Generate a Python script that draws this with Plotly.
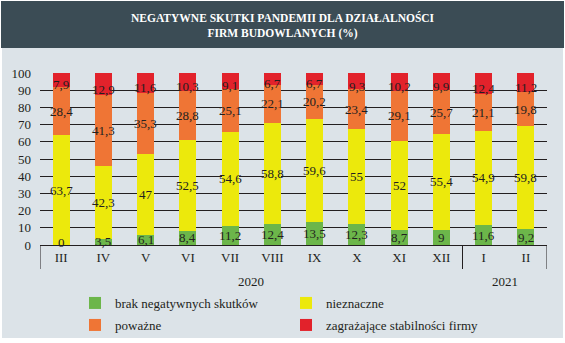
import plotly.graph_objects as go

months = ["III", "IV", "V", "VI", "VII", "VIII", "IX", "X", "XI", "XII", "I", "II"]
years = ["2020", "2021"]
brak = [0, 3.5, 6.1, 8.4, 11.2, 12.4, 13.5, 12.3, 8.7, 9, 11.6, 9.2]
nieznaczne = [63.7, 42.3, 47, 52.5, 54.6, 58.8, 59.6, 55, 52, 55.4, 54.9, 59.8]
powazne = [28.4, 41.3, 35.3, 28.8, 25.1, 22.1, 20.2, 23.4, 29.1, 25.7, 21.1, 19.8]
zagrazajace = [7.9, 12.9, 11.6, 10.3, 9.1, 6.7, 6.7, 9.3, 10.2, 9.9, 12.4, 11.2]

names = ["brak negatywnych skutków", "nieznaczne", "poważne", "zagrażające stabilności firmy"]
colors = ["#6cb64a", "#ece90c", "#ef7535", "#e2222b"]
series = [brak, nieznaczne, powazne, zagrazajace]
legend_ids = ["legend", "legend", "legend2", "legend2"]

W, H = 565, 343
L, R, T, B = 40, 18, 73, 98
ph = H - T - B
pw = W - L - R

def py(pix):
    return (H - B - pix) / ph

def px(pix):
    return (pix - L) / pw

fig = go.Figure()
xs = list(range(len(months)))
for name, col, vals, lg in zip(names, colors, series, legend_ids):
    fig.add_trace(go.Bar(x=xs, y=vals, name=name, legend=lg,
                         marker=dict(color=col, line=dict(width=0))))

def fmt(v):
    return ("%g" % v).replace(".", ",")

annotations = []
cum = [0.0] * len(months)
for si, vals in enumerate(series):
    for i, v in enumerate(vals):
        mid = cum[i] + v / 2
        if si == 0:
            mid = max(mid, 1.5)
        annotations.append(dict(
            x=i, y=mid, xref="x", yref="y", text=fmt(v), showarrow=False,
            yanchor="middle", xanchor="center",
            font=dict(family="Liberation Serif", size=13, color="#231f20"),
            yshift=(-5 if si == 3 else 0)))
        cum[i] += v

# year labels
for yr, xc in zip(years, [4.5, 10.5]):
    annotations.append(dict(x=xc, y=py(281), xref="x", yref="paper", text=yr, showarrow=False,
                            yanchor="middle", xanchor="center",
                            font=dict(family="Liberation Serif", size=13, color="#231f20")))
# title
annotations.append(dict(x=px(283), y=py(26), xref="paper", yref="paper",
                        yanchor="middle", xanchor="center",
                        text="<b>NEGATYWNE SKUTKI PANDEMII DLA DZIAŁALNOŚCI<br>FIRM BUDOWLANYCH (%)</b>",
                        showarrow=False, font=dict(family="Liberation Serif", size=11.5, color="white")))

shapes = [
    dict(type="rect", xref="paper", yref="paper", x0=px(2), x1=px(563), y0=py(338), y1=py(48),
         fillcolor="#dce3e8", line=dict(width=0), layer="below"),
    dict(type="rect", xref="paper", yref="paper", x0=px(1), x1=px(564), y0=py(48), y1=py(1),
         fillcolor="#3b4c55", line=dict(width=0), layer="below"),
]
for xv in [-0.5, 9.5, 11.5]:
    shapes.append(dict(type="line", xref="x", yref="paper", x0=xv, x1=xv, y0=0, y1=py(269),
                       line=dict(color="#231f20", width=1)))

legend_style = dict(orientation="h", xanchor="left", yanchor="middle",
                    xref="paper", yref="paper",
                    entrywidth=166, entrywidthmode="pixels", traceorder="normal",
                    font=dict(family="Liberation Serif", size=13, color="#231f20"),
                    bgcolor="rgba(0,0,0,0)", tracegroupgap=0, itemclick=False)

fig.update_layout(
    width=W, height=H,
    margin=dict(l=L, r=R, t=T, b=B, autoexpand=False),
    paper_bgcolor="white", plot_bgcolor="rgba(0,0,0,0)",
    barmode="stack", bargap=0.6,
    showlegend=True,
    legend=dict(x=px(75), y=py(303), **legend_style),
    legend2=dict(x=px(75), y=py(325), **legend_style),
    annotations=annotations, shapes=shapes,
    xaxis=dict(range=[-0.5, 11.5], tickmode="array", tickvals=xs, ticktext=months,
               showgrid=False, showline=True, linecolor="#231f20", linewidth=1,
               ticks="", zeroline=False, fixedrange=True,
               tickfont=dict(family="Liberation Serif", size=13, color="#231f20")),
    yaxis=dict(range=[0, 100], tickvals=list(range(0, 101, 10)), showgrid=True,
               gridcolor="#231f20", gridwidth=1, zeroline=False, showline=False,
               ticks="", ticklabelstandoff=8, fixedrange=True,
               tickfont=dict(family="Liberation Serif", size=13, color="#231f20")),
)

fig.write_html("out.html")
